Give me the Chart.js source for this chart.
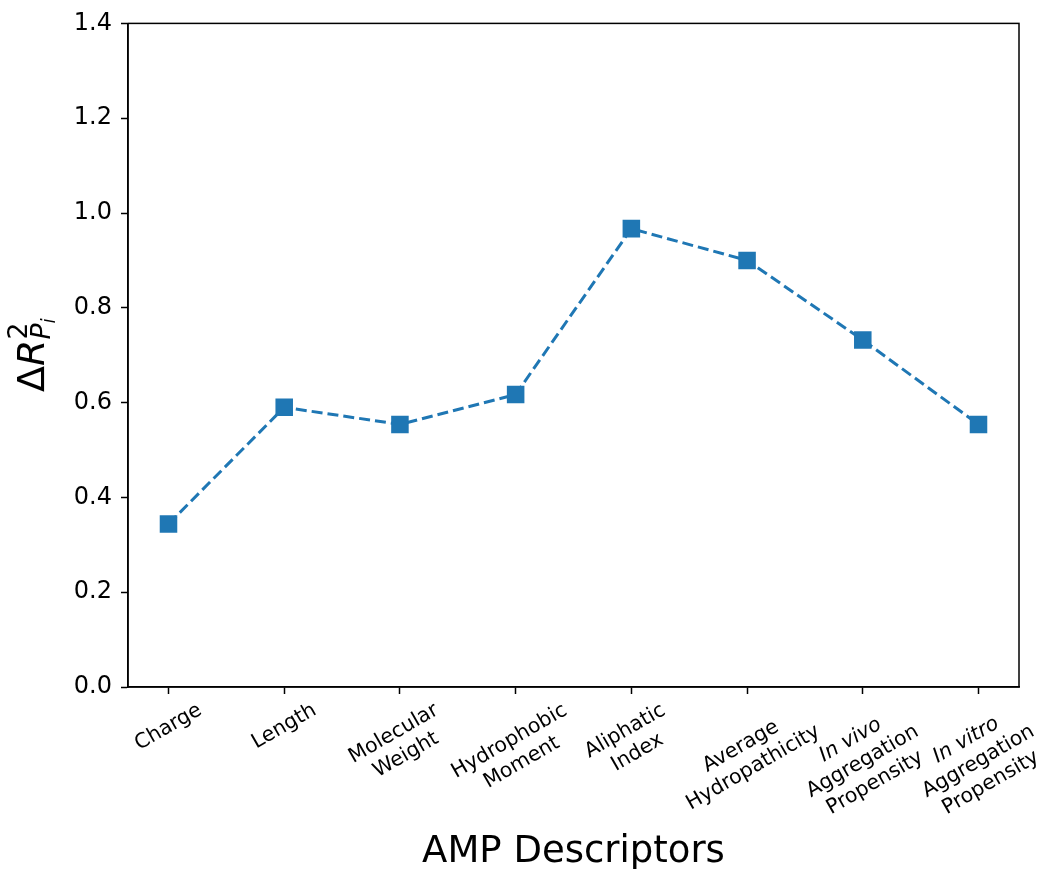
<!DOCTYPE html>
<html>
<head>
<meta charset="utf-8">
<script src="https://cdn.jsdelivr.net/npm/chart.js@4.4.1/dist/chart.umd.min.js"></script>
<style>
  html, body { margin: 0; padding: 0; background: #ffffff; }
  #wrap { width: 1042px; height: 869px; position: relative; }
</style>
</head>
<body>
<div id="wrap"><canvas id="c" width="1042" height="869"></canvas></div>
<script>
// ---- data ----
const categories = [
  ["Charge"],
  ["Length"],
  ["Molecular", "Weight"],
  ["Hydrophobic", "Moment"],
  ["Aliphatic", "Index"],
  ["Average", "Hydropathicity"],
  ["In vivo", "Aggregation", "Propensity"],
  ["In vitro", "Aggregation", "Propensity"]
];
const italicFirstLine = [false, false, false, false, false, false, true, true];
const deltaR2 = [0.344, 0.590, 0.554, 0.617, 0.967, 0.900, 0.732, 0.554];
const yTicks = [0.0, 0.2, 0.4, 0.6, 0.8, 1.0, 1.2, 1.4];
const xTitle = "AMP Descriptors";

const FONT = '"DejaVu Sans", "Liberation Sans", sans-serif';
const BLUE = '#1f77b4';

const decorPlugin = {
  id: 'decor',
  afterDraw(chart) {
    const ctx = chart.ctx;
    const a = chart.chartArea;
    const xs = chart.scales.x;
    ctx.save();
    // frame (all four spines)
    ctx.strokeStyle = '#000';
    ctx.lineWidth = 1.5;
    ctx.strokeRect(a.left, a.top, a.right - a.left, a.bottom - a.top);

    // rotated multi-line x tick labels (rotation 30, centred)
    const fs = 20.5;
    const pitch = fs * 1.2;
    const lineH = fs * 1.0;
    const ang = 30 * Math.PI / 180;
    const topY = a.bottom + 7 + 6;
    categories.forEach((lines, i) => {
      const widths = lines.map((t, j) => {
        ctx.font = ((j === 0 && italicFirstLine[i]) ? 'italic ' : '') + fs + 'px ' + FONT;
        return ctx.measureText(t).width;
      });
      const W = Math.max(...widths);
      const H = (lines.length - 1) * pitch + lineH;
      const bbH = W * Math.sin(ang) + H * Math.cos(ang);
      const cx = xs.getPixelForValue(i);
      const cy = topY + bbH / 2;
      ctx.save();
      ctx.translate(cx, cy);
      ctx.rotate(-ang);
      ctx.fillStyle = '#000';
      ctx.textAlign = 'center';
      ctx.textBaseline = 'middle';
      lines.forEach((t, j) => {
        ctx.font = ((j === 0 && italicFirstLine[i]) ? 'italic ' : '') + fs + 'px ' + FONT;
        ctx.fillText(t, 0, -H / 2 + lineH / 2 + j * pitch);
      });
      ctx.restore();
    });

    // x axis title
    ctx.fillStyle = '#000';
    ctx.font = '37px ' + FONT;
    ctx.textAlign = 'center';
    ctx.textBaseline = 'alphabetic';
    ctx.fillText(xTitle, (a.left + a.right) / 2, 862);

    // y axis title: ΔR^2_{P_i}
    const F = 38;
    ctx.font = F + 'px ' + FONT;
    const wD = ctx.measureText('\u0394').width;
    ctx.font = 'italic ' + F + 'px ' + FONT;
    const wR = ctx.measureText('R').width;
    const fs2 = F * 0.7;
    ctx.font = fs2 + 'px ' + FONT;
    const w2 = ctx.measureText('2').width;
    ctx.font = 'italic ' + fs2 + 'px ' + FONT;
    const wP = ctx.measureText('P').width;
    const fs3 = fs2 * 0.7;
    ctx.font = 'italic ' + fs3 + 'px ' + FONT;
    const wi = ctx.measureText('i').width;
    const total = wD + wR + Math.max(w2, wP + wi);
    const midY = (a.top + a.bottom) / 2;
    ctx.save();
    ctx.translate(44, midY + total / 2);
    ctx.rotate(-Math.PI / 2);
    ctx.textAlign = 'left';
    ctx.textBaseline = 'alphabetic';
    ctx.font = F + 'px ' + FONT;
    ctx.fillText('\u0394', 0, 0);
    ctx.font = 'italic ' + F + 'px ' + FONT;
    ctx.fillText('R', wD, 0);
    const x0 = wD + wR;
    ctx.font = fs2 + 'px ' + FONT;
    ctx.fillText('2', x0, -F * 0.45);
    ctx.font = 'italic ' + fs2 + 'px ' + FONT;
    ctx.fillText('P', x0, F * 0.15);
    ctx.font = 'italic ' + fs3 + 'px ' + FONT;
    ctx.fillText('i', x0 + wP, F * 0.15 + fs2 * 0.2);
    ctx.restore();

    ctx.restore();
  }
};

new Chart(document.getElementById('c'), {
  type: 'line',
  data: {
    datasets: [{
      data: deltaR2.map((v, i) => ({ x: i, y: v })),
      borderColor: BLUE,
      backgroundColor: BLUE,
      borderWidth: 3,
      borderDash: [11, 5],
      pointStyle: 'rect',
      pointRadius: 12.4,
      pointHoverRadius: 12.4,
      pointBorderWidth: 0,
      pointBackgroundColor: BLUE,
      tension: 0,
      fill: false
    }]
  },
  options: {
    responsive: false,
    animation: false,
    events: [],
    layout: { padding: { top: 23, right: 23, left: 0, bottom: 0 } },
    plugins: { legend: { display: false }, tooltip: { enabled: false } },
    scales: {
      x: {
        type: 'linear',
        min: -0.35,
        max: categories.length - 1 + 0.35,
        afterBuildTicks: (s) => { s.ticks = categories.map((c, i) => ({ value: i })); },
        afterFit: (s) => { s.height = 182; },
        ticks: { display: false },
        grid: { drawOnChartArea: false, drawTicks: true, tickLength: 7, tickWidth: 1.5, color: '#000' },
        border: { display: true, color: '#000', width: 1.5 }
      },
      y: {
        min: 0,
        max: 1.4,
        afterBuildTicks: (s) => { s.ticks = yTicks.map(v => ({ value: v })); },
        afterFit: (s) => { s.width = 128; },
        ticks: {
          callback: (v) => Number(v).toFixed(1),
          font: { family: FONT, size: 24 },
          color: '#000',
          padding: 9
        },
        grid: { drawOnChartArea: false, drawTicks: true, tickLength: 7, tickWidth: 1.5, color: '#000' },
        border: { display: true, color: '#000', width: 1.5 }
      }
    }
  },
  plugins: [decorPlugin]
});
</script>
</body>
</html>
